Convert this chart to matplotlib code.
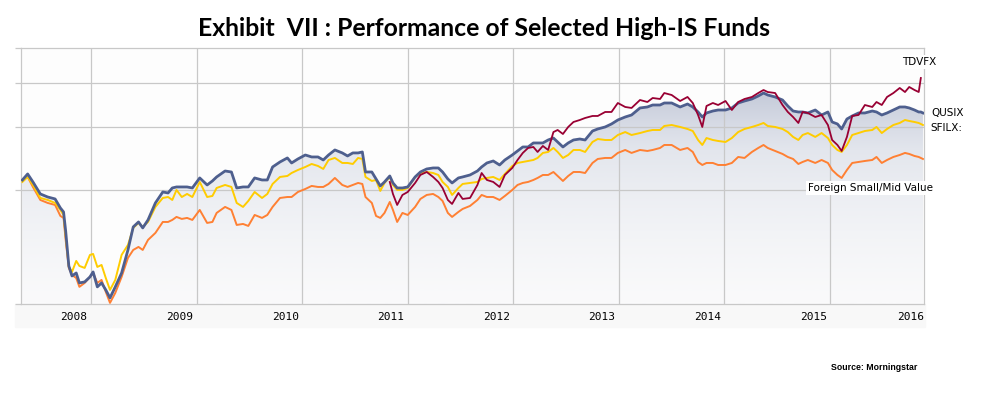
import matplotlib.pyplot as plt
import numpy as np
from matplotlib.colors import LinearSegmentedColormap
from matplotlib.ticker import NullLocator

# Growth of 10,000, dates as decimal years
dates = [2008.35, 2008.40, 2008.45, 2008.52, 2008.59, 2008.66, 2008.71, 2008.74, 2008.76, 2008.79,
         2008.82, 2008.86, 2008.89, 2008.94, 2008.99, 2009.02, 2009.06, 2009.10, 2009.14, 2009.18,
         2009.23, 2009.29, 2009.35, 2009.40, 2009.45, 2009.49, 2009.54, 2009.61, 2009.68, 2009.73,
         2009.77, 2009.81, 2009.86, 2009.91, 2009.96, 2010.03, 2010.10, 2010.15, 2010.19, 2010.27,
         2010.33, 2010.38, 2010.44, 2010.49, 2010.55, 2010.62, 2010.67, 2010.72, 2010.79, 2010.86,
         2010.90, 2010.96, 2011.03, 2011.09, 2011.15, 2011.20, 2011.25, 2011.31, 2011.38, 2011.43,
         2011.48, 2011.53, 2011.57, 2011.60, 2011.66, 2011.70, 2011.74, 2011.78, 2011.83, 2011.86,
         2011.90, 2011.95, 2012.00, 2012.07, 2012.12, 2012.18, 2012.24, 2012.29, 2012.33, 2012.38,
         2012.42, 2012.48, 2012.52, 2012.59, 2012.66, 2012.70, 2012.75, 2012.81, 2012.87, 2012.92,
         2012.99, 2013.04, 2013.09, 2013.14, 2013.19, 2013.23, 2013.28, 2013.33, 2013.38, 2013.42,
         2013.47, 2013.52, 2013.57, 2013.63, 2013.68, 2013.75, 2013.80, 2013.87, 2013.93, 2013.99,
         2014.06, 2014.12, 2014.20, 2014.27, 2014.32, 2014.39, 2014.43, 2014.50, 2014.58, 2014.65,
         2014.70, 2014.75, 2014.79, 2014.83, 2014.89, 2014.94, 2015.01, 2015.07, 2015.13, 2015.19,
         2015.26, 2015.32, 2015.37, 2015.41, 2015.48, 2015.55, 2015.60, 2015.65, 2015.70, 2015.74,
         2015.79, 2015.86, 2015.92, 2015.98, 2016.02, 2016.07, 2016.11, 2016.16, 2016.21, 2016.27,
         2016.33, 2016.40, 2016.44, 2016.49, 2016.54, 2016.60, 2016.66, 2016.71, 2016.75, 2016.80,
         2016.84, 2016.86, 2016.88]

qusix = [10666, 11088, 10531, 9746, 9556, 9437, 8902, 8678, 7677, 6124,
         5741, 5852, 5488, 5524, 5704, 5892, 5350, 5488, 5246, 4983,
         5350, 5852, 6790, 7877, 8134, 7827, 8241, 9196, 9871, 9808,
         10130, 10196, 10196, 10196, 10130, 10806, 10328, 10598, 10876, 11303,
         11230, 10130, 10196, 10196, 10806, 10666, 10666, 11600, 11980, 12295,
         11904, 12215, 12533, 12374, 12374, 12135, 12533, 12945, 12700, 12454,
         12700, 12700, 12780, 11230, 11230, 10735, 10260, 10531, 10945, 10463,
         10130, 10130, 10196, 10876, 11230, 11452, 11526, 11526, 11230, 10735,
         10463, 10806, 10876, 11016, 11303, 11600, 11904, 12057, 11750, 12135,
         12533, 12862, 13198, 13198, 13544, 13544, 13544, 13807, 13982, 13631,
         13198, 13544, 13807, 13895, 13807, 14630, 14824, 15017, 15310, 15708,
         16016, 16224, 16976, 17085, 17305, 17305, 17530, 17530, 17085, 17415,
         17085, 16542, 16016, 16437, 16646, 16755, 16755, 16976, 17530, 17757,
         17990, 18340, 18696, 18458, 18225, 17872, 17195, 16646, 16542, 16542,
         16437, 16755, 16224, 16542, 15508, 15310, 14824, 15808, 16121, 16437,
         16437, 16646, 16542, 16224, 16437, 16755, 17085, 17085, 16976, 16755,
         16542, 16542, 16437]

sfilx = [10531, 10876, 10328, 9496, 9375, 9196, 8790, 8510, 7432, 6084,
         5893, 6325, 6124, 6045, 6575, 6617, 6084, 6163, 5666, 5246,
         5595, 6575, 7012, 7827, 8083, 7877, 8134, 8963, 9496, 9556,
         9375, 10000, 9556, 9746, 9556, 10531, 9556, 9620, 10130, 10328,
         10196, 9196, 8963, 9316, 9871, 9496, 9746, 10395, 10876, 10946,
         11157, 11377, 11600, 11826, 11675, 11452, 12135, 12295, 11904, 11904,
         11826, 12295, 12215, 10876, 10598, 10666, 9936, 10463, 10876, 10328,
         10000, 10000, 10130, 10876, 11157, 11230, 11157, 11016, 10531, 10196,
         9683, 10130, 10395, 10463, 10531, 10735, 10806, 10876, 10666, 11088,
         11675, 11904, 11980, 12057, 12135, 12295, 12700, 12780, 13113, 12780,
         12295, 12533, 12945, 12945, 12780, 13631, 13895, 13807, 13807, 14259,
         14533, 14259, 14440, 14630, 14727, 14727, 15112, 15210, 15017, 14824,
         14630, 13807, 13369, 13982, 13807, 13719, 13631, 13982, 14533, 14824,
         15017, 15210, 15410, 15112, 15017, 14824, 14533, 14083, 13807, 14259,
         14440, 14083, 14440, 13982, 13369, 12945, 12780, 13369, 14259, 14440,
         14630, 14727, 15017, 14440, 14824, 15210, 15410, 15708, 15608, 15508,
         15410, 15310, 15210]

category = [10666, 10876, 10196, 9375, 9196, 9078, 8456, 8349, 7243, 6045,
            5778, 5666, 5350, 5488, 5704, 5852, 5488, 5595, 5180, 4825,
            5145, 5704, 6448, 6790, 6923, 6790, 7243, 7578, 8134, 8134,
            8241, 8403, 8295, 8349, 8241, 8790, 8083, 8134, 8622, 8963,
            8790, 7979, 8030, 7928, 8510, 8349, 8510, 8963, 9496, 9556,
            9556, 9871, 10065, 10263, 10196, 10196, 10395, 10806, 10328, 10196,
            10328, 10463, 10395, 9556, 9196, 8456, 8349, 8622, 9256, 8790,
            8134, 8622, 8510, 8963, 9437, 9683, 9746, 9556, 9316, 8622,
            8403, 8678, 8847, 9020, 9375, 9683, 9556, 9556, 9375, 9620,
            10000, 10328, 10463, 10531, 10666, 10806, 11016, 11016, 11230, 10946,
            10598, 10946, 11230, 11230, 11157, 11904, 12215, 12295, 12295, 12700,
            12945, 12700, 12945, 12862, 12945, 13113, 13369, 13369, 12945, 13113,
            12780, 11980, 11750, 11904, 11904, 11750, 11750, 11904, 12374, 12295,
            12780, 13113, 13369, 13113, 12862, 12617, 12374, 12215, 11826, 11980,
            12135, 11904, 12135, 11904, 11377, 11016, 10806, 11377, 11904, 11980,
            12057, 12135, 12374, 11904, 12135, 12374, 12533, 12700, 12617, 12454,
            12374, 12295, 12215]

# TDVFX starts late 2011 (same dates as above from index 68)
tdvfx = [10531, 9746, 9078, 9683, 9871, 10463, 11016, 11230, 10876, 10531,
         10130, 9375, 9137, 9808, 9437, 9496, 10328, 11157, 10666, 10531,
         10196, 11016, 11526, 12135, 12700, 13113, 13198, 12780, 13283, 12945,
         14533, 14727, 14352, 15017, 15508, 15708, 15913, 16121, 16121, 16542,
         16542, 17530, 17085, 16976, 17872, 17643, 18105, 17990, 18696, 18458,
         17757, 18225, 17530, 16224, 15017, 17195, 17530, 17305, 17757, 16755,
         17643, 17990, 18225, 18696, 19064, 18816, 18696, 17305, 16542, 16016,
         15410, 16542, 16437, 16016, 16224, 15210, 13807, 13369, 12862, 14083,
         16121, 16224, 17305, 17085, 17643, 17305, 18225, 18696, 19315, 18816,
         19440, 19064, 18816, 20600]
tdvfx_dates = dates[68:68 + len(tdvfx)]

years = list(range(2008, 2017))
grid_years = list(range(2009, 2017))

fig = plt.figure(figsize=(9.91, 3.96), dpi=100)
W, H = 991, 396

# light band behind the year labels
fig.patches.append(plt.Rectangle((15 / W, 1 - 327 / H), 910 / W, 23 / H,
                                 transform=fig.transFigure, color='#f8f8f8', zorder=-5))

ax = fig.add_axes([21 / W, 1 - 304 / H, 903 / W, 256 / H])
ax.set_facecolor('#fdfdfd')
ax.set_yscale('log')

# gradient fill under QUSIX
cmap = LinearSegmentedColormap.from_list(
    'fill', [(0, '#fafafb'), (0.4, '#e3e6ed'), (0.7, '#c3c9d8'), (1, '#9aa5c0')])
grad = np.linspace(0, 1, 256).reshape(-1, 1)
im = ax.imshow(grad, extent=[2008.337, 2016.89, 4790, 25000], origin='lower',
               aspect='auto', cmap=cmap, zorder=1, interpolation='bilinear')
poly = ax.fill_between(dates, qusix, 4790, color='none', lw=0)
im.set_clip_path(poly.get_paths()[0], transform=ax.transData)
ax.set_xlim(2008.337, 2016.89)
ax.set_ylim(4790, 25000)

for g in [10000, 15000, 20000]:
    ax.axhline(g, color='#c8c8c8', lw=0.9, zorder=2)
for g in grid_years:
    ax.axvline(g, color='#c8c8c8', lw=0.9, zorder=2)

ax.plot(dates, category, color='#ff8033', lw=1.4, zorder=4)
ax.plot(dates, sfilx, color='#ffcc00', lw=1.4, zorder=5)
ax.plot(dates, qusix, color='#4e5f8e', lw=2.0, zorder=6)
ax.plot(tdvfx_dates, tdvfx, color='#990033', lw=1.3, zorder=7)

for s in ax.spines.values():
    s.set_color('#c8c8c8')
    s.set_linewidth(0.9)

ax.yaxis.set_minor_locator(NullLocator())
ax.set_yticks([4790, 10000, 15000, 20000, 25000])
ax.tick_params(axis='y', length=4.5, width=0.9, color='#c8c8c8', labelleft=False)

label_pos = [y + 0.84 for y in years[:-1]] + [years[-1] + 0.76]
ax.set_xticks(label_pos)
ax.set_xticklabels([str(y) for y in years], family='DejaVu Sans Mono', fontsize=8)
ax.tick_params(axis='x', length=0, pad=6)

fig.text(484 / W, 1 - 29 / H, 'Exhibit  VII : Performance of Selected High-IS Funds',
         ha='center', va='center', fontsize=17.8, fontweight='bold', family='Lato')

box = dict(facecolor='white', edgecolor='none', pad=1.5)
lab = 'DejaVu Sans'
fig.text(902 / W, 1 - 62 / H, 'TDVFX', ha='left', va='center', fontsize=7.5, family=lab, bbox=box)
fig.text(931 / W, 1 - 113 / H, 'QUSIX', ha='left', va='center', fontsize=7.5, family=lab, bbox=box)
fig.text(930 / W, 1 - 128 / H, 'SFILX:', ha='left', va='center', fontsize=7.5, family=lab, bbox=box)
fig.text(808 / W, 1 - 188 / H, 'Foreign Small/Mid Value', ha='left', va='center',
         fontsize=7.5, family=lab, bbox=box)

fig.text(874 / W, 1 - 368 / H, 'Source: Morningstar', ha='center', va='center',
         fontsize=6.3, fontweight='bold', family=['Liberation Sans Narrow', 'Liberation Sans'])

fig.savefig('out.png', dpi=100)
